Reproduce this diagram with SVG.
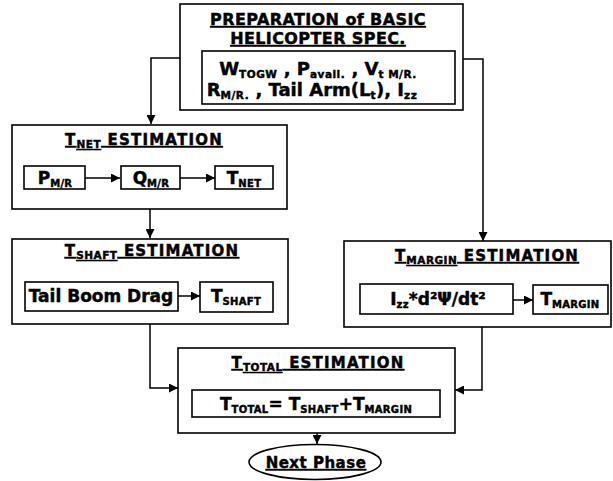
<svg xmlns="http://www.w3.org/2000/svg" width="613" height="481" viewBox="0 0 613 481">
<style>
.box{fill:#fff;stroke:#000;stroke-width:1.6}
.ln{fill:none;stroke:#000;stroke-width:1.5}
text{font-family:"DejaVu Sans","Liberation Sans",sans-serif;font-weight:bold;fill:#000;stroke:#000;stroke-width:0.45;text-anchor:middle}
.hd{font-size:16px;letter-spacing:0.4px;text-decoration:underline}
.ti{font-size:15px;letter-spacing:1.2px;text-decoration:underline}
.tx{font-size:17px}
.tb{font-size:18px}
.sb{font-size:10px;letter-spacing:0.3px}
.ts{font-size:10.5px;letter-spacing:0.5px}
</style>
<defs>
<marker id="ah" viewBox="0 0 10 10" refX="10" refY="5" markerWidth="9" markerHeight="9" markerUnits="userSpaceOnUse" orient="auto">
<path d="M0,0 L10,5 L0,10 Z" fill="#000"/>
</marker>
</defs>

<g id="prep">
<rect class="box" x="180" y="4" width="283" height="106"/>
<text class="hd" x="318" y="25">PREPARATION of BASIC</text>
<text class="hd" x="318" y="44">HELICOPTER SPEC.</text>
<rect class="box" x="202" y="51" width="253" height="53"/>
<text class="tb" x="318" y="75">W<tspan class="ts" dy="3">TOGW</tspan><tspan dy="-3"> , P</tspan><tspan class="ts" dy="3">avail.</tspan><tspan dy="-3"> , V</tspan><tspan class="ts" dy="3">t M/R.</tspan></text>
<text class="tb" x="312" y="96">R<tspan class="ts" dy="3">M/R.</tspan><tspan dy="-3"> , Tail Arm(L</tspan><tspan class="ts" dy="3">t</tspan><tspan dy="-3">), I</tspan><tspan class="ts" dy="3">zz</tspan></text>
</g>

<g id="tnet">
<rect class="box" x="12" y="125" width="275" height="84"/>
<text class="ti" x="144" y="145">T<tspan class="ts" dy="3">NET</tspan><tspan dy="-3"> ESTIMATION</tspan></text>
<rect class="box" x="24" y="166" width="61" height="23"/>
<text class="tx" x="55" y="184">P<tspan class="sb" dy="3">M/R</tspan></text>
<rect class="box" x="121" y="166" width="59" height="23"/>
<text class="tx" x="151" y="184">Q<tspan class="sb" dy="3">M/R</tspan></text>
<rect class="box" x="215" y="166" width="58" height="23"/>
<text class="tx" x="244" y="184">T<tspan class="sb" dy="3">NET</tspan></text>
</g>

<g id="tshaft">
<rect class="box" x="12" y="239" width="276" height="85"/>
<text class="ti" x="152" y="256">T<tspan class="ts" dy="3">SHAFT</tspan><tspan dy="-3"> ESTIMATION</tspan></text>
<rect class="box" x="25" y="282" width="153" height="29"/>
<text class="tx" x="101" y="302">Tail Boom Drag</text>
<rect class="box" x="200" y="282" width="73" height="30"/>
<text class="tx" x="236" y="302">T<tspan class="sb" dy="3">SHAFT</tspan></text>
</g>

<g id="tmargin">
<rect class="box" x="344" y="241" width="267" height="86"/>
<text class="ti" x="487" y="261">T<tspan class="ts" dy="3">MARGIN</tspan><tspan dy="-3"> ESTIMATION</tspan></text>
<rect class="box" x="360" y="284" width="153" height="30"/>
<text class="tx" x="438" y="305">I<tspan class="sb" dy="3">zz</tspan><tspan dy="-3">*d²Ψ/dt²</tspan></text>
<rect class="box" x="533" y="285" width="75" height="29"/>
<text class="tx" x="570" y="305">T<tspan class="sb" dy="3">MARGIN</tspan></text>
</g>

<g id="ttotal">
<rect class="box" x="178" y="348" width="277" height="85"/>
<text class="ti" x="318" y="368">T<tspan class="ts" dy="3">TOTAL</tspan><tspan dy="-3"> ESTIMATION</tspan></text>
<rect class="box" x="192" y="390" width="248" height="27"/>
<text class="tx" x="316" y="410">T<tspan class="sb" dy="3">TOTAL</tspan><tspan dy="-3">= T</tspan><tspan class="sb" dy="3">SHAFT</tspan><tspan dy="-3">+T</tspan><tspan class="sb" dy="3">MARGIN</tspan></text>
</g>

<g id="next">
<ellipse class="box" cx="315" cy="462" rx="66" ry="17.5"/>
<text class="ti" x="316" y="468" style="letter-spacing:0.5px">Next Phase</text>
</g>

<g id="connectors">
<path class="ln" d="M180,58 H151 V124" marker-end="url(#ah)"/>
<path class="ln" d="M463,59 H483 V241" marker-end="url(#ah)"/>
<path class="ln" d="M85,178 H120" marker-end="url(#ah)"/>
<path class="ln" d="M180,178 H215" marker-end="url(#ah)"/>
<path class="ln" d="M150,209 V238" marker-end="url(#ah)"/>
<path class="ln" d="M178,296 H200" marker-end="url(#ah)"/>
<path class="ln" d="M513,300 H533" marker-end="url(#ah)"/>
<path class="ln" d="M150,324 V388 H178" marker-end="url(#ah)"/>
<path class="ln" d="M482,327 V390 H455" marker-end="url(#ah)"/>
<path class="ln" d="M317,433 V444" marker-end="url(#ah)"/>
</g>
</svg>
